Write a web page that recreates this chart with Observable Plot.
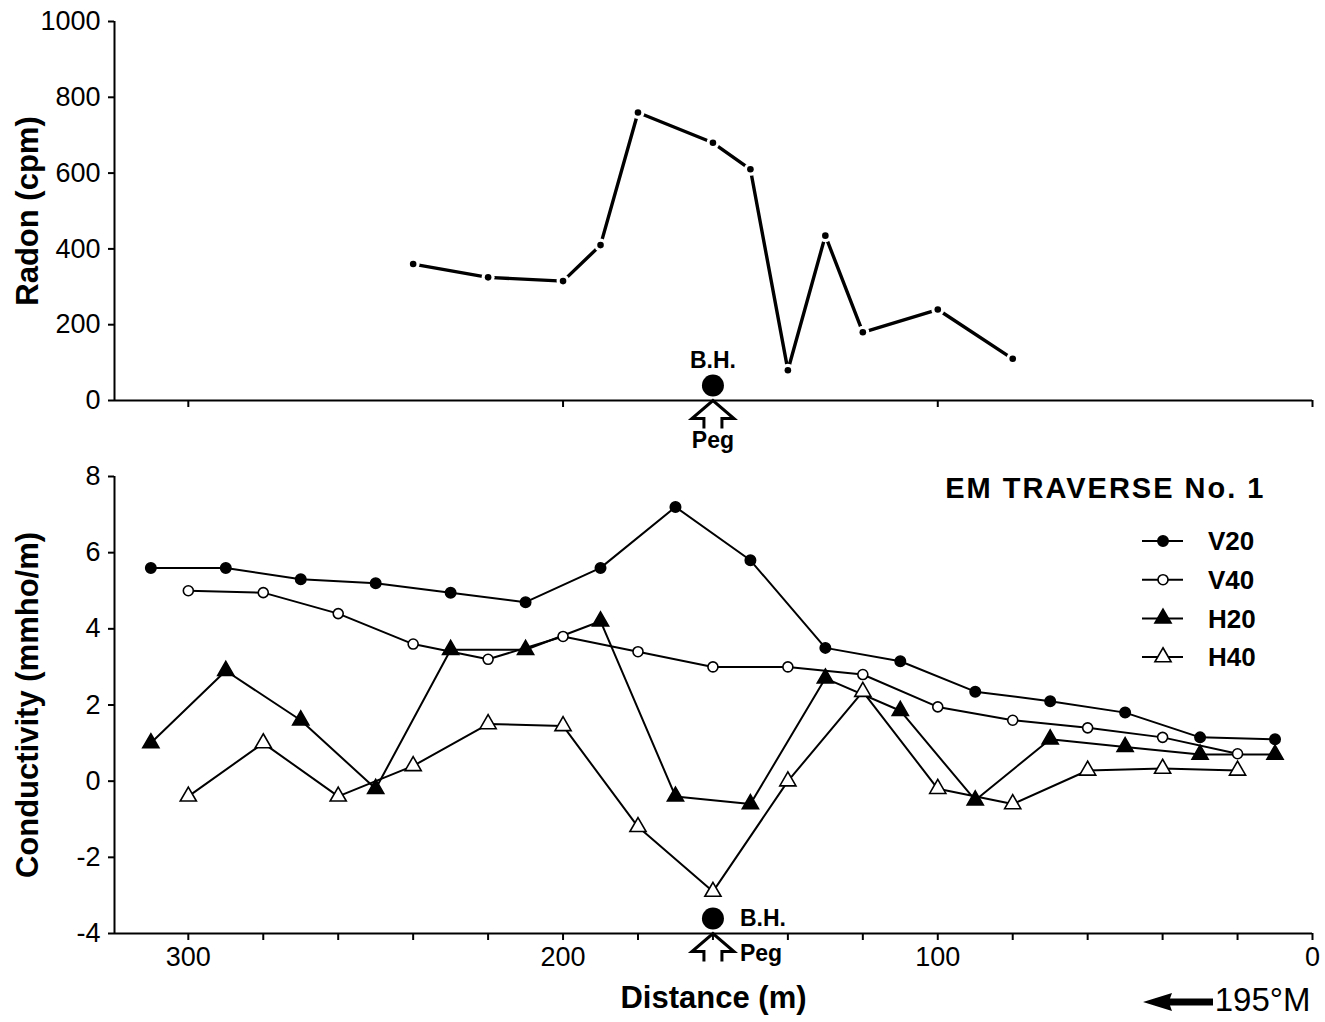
<!DOCTYPE html>
<html><head><meta charset="utf-8">
<script src="https://cdn.jsdelivr.net/npm/d3@7"></script>
<script src="https://cdn.jsdelivr.net/npm/@observablehq/plot@0.6"></script>
<style>
body{margin:0;background:#fff;}
#wrap{position:relative;width:1325px;height:1022px;font-family:"Liberation Sans",Arial,Helvetica,sans-serif;overflow:hidden;}
#wrap > svg, #wrap > div{position:absolute;left:0;}
</style></head><body><div id="wrap"></div>
<script>
// ---------- data ----------
const radonDistance = [240, 220, 200, 190, 180, 160, 150, 140, 130, 120, 100, 80];
const radonCpm      = [360, 325, 315, 410, 760, 680, 610, 80, 435, 180, 240, 110];

const dist20 = [310, 290, 270, 250, 230, 210, 190, 170, 150, 130, 110, 90, 70, 50, 30, 10];
const dist40 = [300, 280, 260, 240, 220, 200, 180, 160, 140, 120, 100, 80, 60, 40, 20];
const V20 = [5.6, 5.6, 5.3, 5.2, 4.95, 4.7, 5.6, 7.2, 5.8, 3.5, 3.15, 2.35, 2.1, 1.8, 1.15, 1.1];
const V40 = [5.0, 4.95, 4.4, 3.6, 3.2, 3.8, 3.4, 3.0, 3.0, 2.8, 1.95, 1.6, 1.4, 1.15, 0.72];
const H20 = [1.0, 2.9, 1.6, -0.2, 3.45, 3.45, 4.2, -0.4, -0.6, 2.7, 1.85, -0.5, 1.1, 0.9, 0.7, 0.7];
const H40 = [-0.4, 1.0, -0.4, 0.4, 1.5, 1.45, -1.2, -2.9, 0.0, 2.35, -0.2, -0.6, 0.28, 0.33, 0.28];

const seriesNames = ["V20", "V40", "H20", "H40"];
const boreholeDistance = [160];

const radonTicks = [0, 200, 400, 600, 800, 1000];
const condTicks = [-4, -2, 0, 2, 4, 6, 8];
const distTicksTop = [300, 200, 100, 0];
const distTicksBottom = d3.range(0, 301, 20);

const xDomain = [319.7, 0];
const FONT = '"Liberation Sans", Arial, Helvetica, sans-serif';
const TITLE = "EM TRAVERSE No. 1";

// ---------- build tables ----------
const radonData = radonDistance.map((d, i) => ({distance: d, radon: radonCpm[i]}));
const seriesValues = {V20, V40, H20, H40};
const seriesDist = {V20: dist20, V40: dist40, H20: dist20, H40: dist40};
const condData = seriesNames.flatMap(s => seriesValues[s].map((v, i) => ({series: s, distance: seriesDist[s][i], value: v})));
const styleOf = {
  V20: {symbol: "circle", fill: "black", stroke: "black", r: 5.2},
  V40: {symbol: "circle", fill: "white", stroke: "black", r: 5},
  H20: {symbol: "triangle", fill: "black", stroke: "black", r: 6},
  H40: {symbol: "triangle", fill: "white", stroke: "black", r: 6}
};

// peg arrow symbol (open up-arrow), tip at origin
const pegSymbol = {draw(ctx) {
  ctx.moveTo(-9, 28); ctx.lineTo(-9, 18); ctx.lineTo(-21, 18); ctx.lineTo(0, 0);
  ctx.lineTo(21, 18); ctx.lineTo(9, 18); ctx.lineTo(9, 28);
}};

const wrap = document.getElementById("wrap");

// ---------- top panel: radon ----------
const radonChart = Plot.plot({
  width: 1325, height: 460,
  marginLeft: 114, marginRight: 13, marginTop: 21, marginBottom: 60,
  style: {fontFamily: FONT, background: "transparent", overflow: "visible"},
  x: {domain: xDomain},
  y: {domain: [0, 1000]},
  marks: [
    Plot.axisY({ticks: radonTicks, tickSize: 6, tickPadding: 8, fontSize: 27, strokeWidth: 2, label: null, tickFormat: d => String(d)}),
    Plot.axisX({ticks: distTicksTop, tickSize: 7, strokeWidth: 2, tickFormat: () => "", label: null}),
    Plot.ruleX([xDomain[0]], {strokeWidth: 2}),
    Plot.ruleY([0], {strokeWidth: 2}),
    Plot.line(radonData, {x: "distance", y: "radon", stroke: "black", strokeWidth: 3.4}),
    Plot.dot(radonData, {x: "distance", y: "radon", r: 6.5, fill: "white", stroke: "none"}),
    Plot.dot(radonData, {x: "distance", y: "radon", r: 3.3, fill: "black", stroke: "none"}),
    Plot.dot(boreholeDistance, {x: d => d, y: () => 0, dy: -15, r: 11, fill: "black"}),
    Plot.text(boreholeDistance, {x: d => d, y: () => 0, dy: -40, text: () => "B.H.", fontSize: 23, fontWeight: "bold"}),
    Plot.dot(boreholeDistance, {x: d => d, y: () => 0, symbol: pegSymbol, r: 5, fill: "none", stroke: "black", strokeWidth: 3}),
    Plot.text(boreholeDistance, {x: d => d, y: () => 0, dy: 40, text: () => "Peg", fontSize: 23, fontWeight: "bold"}),
    Plot.text(["Radon (cpm)"], {text: d => d, frameAnchor: "left", textAnchor: "middle", lineAnchor: "middle", rotate: -90, dx: -86, fontSize: 31, fontWeight: "bold"})
  ]
});
radonChart.style.top = "0px";
wrap.appendChild(radonChart);

// ---------- bottom panel: conductivity ----------
const bottomMarks = [
  Plot.axisY({ticks: condTicks, tickSize: 6, tickPadding: 8, fontSize: 27, strokeWidth: 2, label: null, tickFormat: d => String(d)}),
  Plot.axisX({ticks: distTicksBottom, tickSize: 7, tickPadding: 6, fontSize: 27, strokeWidth: 2, label: null, tickFormat: d => d % 100 === 0 ? String(d) : ""}),
  Plot.ruleX([xDomain[0]], {strokeWidth: 2}),
  Plot.ruleY([-4], {strokeWidth: 2}),
  Plot.line(condData, {x: "distance", y: "value", z: "series", stroke: "black", strokeWidth: 2})
];
for (const s of seriesNames) {
  const st = styleOf[s];
  bottomMarks.push(Plot.dot(condData.filter(d => d.series === s), {
    x: "distance", y: "value", symbol: st.symbol, r: st.r, fill: st.fill, stroke: st.stroke, strokeWidth: 1.6
  }));
}
bottomMarks.push(
  Plot.dot(boreholeDistance, {x: d => d, y: () => -4, dy: -15, r: 11, fill: "black"}),
  Plot.text(boreholeDistance, {x: d => d, y: () => -4, dx: 27, dy: -15, textAnchor: "start", text: () => "B.H.", fontSize: 23, fontWeight: "bold"}),
  Plot.dot(boreholeDistance, {x: d => d, y: () => -4, symbol: pegSymbol, r: 5, fill: "none", stroke: "black", strokeWidth: 3}),
  Plot.text(boreholeDistance, {x: d => d, y: () => -4, dx: 27, dy: 20, textAnchor: "start", text: () => "Peg", fontSize: 23, fontWeight: "bold"}),
  Plot.text(["Conductivity (mmho/m)"], {text: d => d, frameAnchor: "left", textAnchor: "middle", lineAnchor: "middle", rotate: -90, dx: -86, fontSize: 31, fontWeight: "bold"}),
  Plot.text(["Distance (m)"], {text: d => d, frameAnchor: "bottom", lineAnchor: "middle", dy: 65, fontSize: 31, fontWeight: "bold"}),
  Plot.text(["195°M"], {text: d => d, frameAnchor: "bottom-right", textAnchor: "end", lineAnchor: "middle", dx: -2, dy: 67, fontSize: 33}),
  Plot.text([TITLE], {text: d => d, frameAnchor: "top-right", textAnchor: "end", lineAnchor: "middle", dx: -47, dy: 12, fontSize: 29, fontWeight: "bold"})
);
const condChart = Plot.plot({
  width: 1325, height: 562,
  marginLeft: 114, marginRight: 13, marginTop: 16, marginBottom: 89,
  style: {fontFamily: FONT, background: "transparent", overflow: "visible"},
  x: {domain: xDomain},
  y: {domain: [-4, 8]},
  marks: bottomMarks
});
condChart.style.top = "460px";
wrap.appendChild(condChart);
d3.select(condChart).selectAll("text").filter(function() { return this.textContent === TITLE; })
  .style("letter-spacing", "2px");

// ---------- legend (series keys) ----------
const leg = d3.select(wrap).append("svg")
  .attr("width", 160).attr("height", 160)
  .style("left", "1130px").style("top", "520px").style("overflow", "visible");
seriesNames.forEach((s, i) => {
  const st = styleOf[s];
  const g = leg.append("g").attr("transform", `translate(0,${21 + i * 38.7})`);
  g.append("line").attr("x1", 12).attr("x2", 53).attr("stroke", "black").attr("stroke-width", 2);
  g.append("path").attr("transform", "translate(33,0)")
    .attr("d", d3.symbol(st.symbol === "circle" ? d3.symbolCircle : d3.symbolTriangle, Math.PI * st.r * st.r)())
    .attr("fill", st.fill).attr("stroke", st.stroke).attr("stroke-width", 1.6);
  g.append("text").attr("x", 78).attr("dy", "0.36em").text(s)
    .attr("font-size", 26).attr("font-weight", "bold").attr("font-family", FONT);
});

// ---------- direction arrow next to 195°M ----------
const arr = d3.select(wrap).append("svg")
  .attr("width", 80).attr("height", 30)
  .style("left", "1140px").style("top", "987px");
arr.append("path")
  .attr("d", "M3,15 L32,6 L30,11.5 L73,11.5 L73,18.5 L30,18.5 L32,24 Z")
  .attr("fill", "black");
</script>
</body></html>
